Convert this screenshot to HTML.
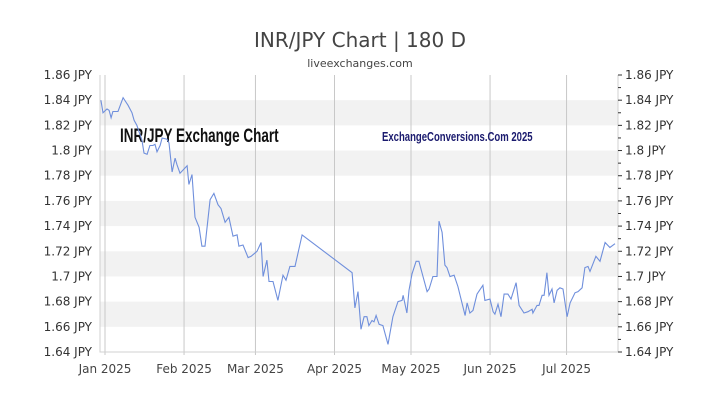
<!DOCTYPE html>
<html><head><meta charset="utf-8"><style>
body{margin:0;background:#fff;width:720px;height:405px;overflow:hidden;font-family:"Liberation Sans","DejaVu Sans",sans-serif}
</style></head><body>
<svg width="720" height="405" xmlns="http://www.w3.org/2000/svg">
<g id="bands"></g><g id="grid"></g>
<text x="360" y="47" text-anchor="middle" font-size="20" fill="#444" font-family="DejaVu Sans,sans-serif">INR/JPY Chart | 180 D</text>
<text x="360" y="67" text-anchor="middle" font-size="11" fill="#444" font-family="DejaVu Sans,sans-serif">liveexchanges.com</text>
<text x="120" y="142" font-size="19" font-weight="bold" fill="#111" font-family="Liberation Sans Narrow,Liberation Sans,sans-serif" transform="translate(120,0) scale(0.71,1) translate(-120,0)">INR/JPY Exchange Chart</text>
<text x="382" y="141" font-size="13" font-weight="bold" fill="#1a1a6e" font-family="Liberation Sans Narrow,Liberation Sans,sans-serif" transform="translate(382,0) scale(0.735,1) translate(-382,0)">ExchangeConversions.Com 2025</text>
<g id="axes"></g>
<path id="line" fill="none" stroke="#6f8fdc" stroke-width="1.1"/>
</svg>
<script>
const days=[-1.6,-0.8,0.8,1.6,2.4,3.1,5.1,7.1,9.0,10.6,11.4,12.5,14.5,15.3,16.5,17.6,18.8,19.6,20.4,21.6,22.4,24.3,25.1,26.3,27.5,28.2,29.4,32.2,32.9,34.1,35.3,36.9,38.0,39.2,41.2,42.7,44.3,45.5,47.1,48.6,50.2,51.8,52.5,54.1,56.1,57.3,59.6,61.2,62.0,63.5,64.3,65.9,67.8,69.8,71.0,72.5,74.5,77.3,96.9,98.0,99.2,100.4,101.6,102.7,103.5,104.7,105.5,106.3,107.5,109.0,111.0,112.9,114.9,116.5,116.9,118.4,119.2,120.4,122.0,123.1,124.7,126.3,127.1,128.6,130.2,131.0,132.2,133.3,134.1,135.3,136.9,138.4,141.2,142.0,143.1,144.3,145.9,148.2,149.0,151.0,152.2,152.9,154.1,155.3,156.5,158.0,159.2,161.2,162.4,164.3,165.9,167.5,167.8,169.4,170.2,171.4,172.2,173.3,174.1,175.3,176.1,177.3,178.4,179.6,181.2,182.4,184.3,185.5,187.1,188.2,189.4,190.2,192.5,194.1,196.1,198.0,200.0];
const rates=[1.840,1.830,1.833,1.832,1.826,1.831,1.831,1.842,1.836,1.830,1.824,1.820,1.808,1.798,1.797,1.804,1.804,1.805,1.799,1.804,1.810,1.809,1.806,1.783,1.794,1.789,1.782,1.788,1.773,1.781,1.747,1.739,1.724,1.724,1.761,1.766,1.757,1.754,1.743,1.747,1.732,1.733,1.724,1.725,1.715,1.716,1.720,1.727,1.700,1.713,1.696,1.696,1.681,1.701,1.697,1.708,1.708,1.733,1.703,1.675,1.688,1.658,1.668,1.668,1.661,1.665,1.664,1.669,1.662,1.661,1.646,1.668,1.680,1.681,1.685,1.671,1.689,1.702,1.712,1.712,1.700,1.688,1.690,1.700,1.700,1.744,1.735,1.709,1.707,1.700,1.701,1.692,1.669,1.679,1.671,1.673,1.686,1.693,1.681,1.682,1.672,1.670,1.678,1.668,1.686,1.686,1.682,1.695,1.677,1.671,1.672,1.674,1.671,1.677,1.677,1.685,1.685,1.703,1.685,1.690,1.679,1.689,1.691,1.690,1.668,1.679,1.687,1.688,1.691,1.707,1.708,1.704,1.716,1.712,1.727,1.723,1.726];
const yTicks=[1.64,1.66,1.68,1.70,1.72,1.74,1.76,1.78,1.80,1.82,1.84,1.86];
const yTickLabels=["1.64 JPY","1.66 JPY","1.68 JPY","1.7 JPY","1.72 JPY","1.74 JPY","1.76 JPY","1.78 JPY","1.8 JPY","1.82 JPY","1.84 JPY","1.86 JPY"];
const monthDays=[0,31,59,90,120,151,181];
const monthLabels=["Jan 2025","Feb 2025","Mar 2025","Apr 2025","May 2025","Jun 2025","Jul 2025"];
const L=100,R=618,T=75,B=352;
const xs=d=>105+d*2.55;
const ys=v=>B-(v-1.64)/(1.86-1.64)*(B-T);
const NS="http://www.w3.org/2000/svg";
function mk(tag,attrs,parent,txt){const e=document.createElementNS(NS,tag);for(const k in attrs)e.setAttribute(k,attrs[k]);if(txt!==undefined)e.textContent=txt;document.getElementById(parent).appendChild(e);return e;}
for(let i=0;i<yTicks.length-1;i++){
 if(i%2===1){const r=mk('rect',{x:L,y:ys(yTicks[i+1]),width:R-L,height:ys(yTicks[i])-ys(yTicks[i+1]),fill:'#f2f2f2'},'bands');
 
 }
}
monthDays.forEach((d,i)=>{
 const l=mk('line',{x1:xs(d),x2:xs(d),y1:T,y2:B+3,stroke:'#c8c8c8','stroke-width':1},'grid');
 
 
 const t=mk('text',{x:xs(d),y:373,'text-anchor':'middle','font-size':12,fill:'#444','font-family':'DejaVu Sans,sans-serif'},'axes',monthLabels[i]);
 
 
});
const ax=mk('path',{d:`M${L},${T}V${B}H${R}V${T}`,fill:'none',stroke:'#d0d0d0'},'axes');


yTicks.forEach((v,i)=>{
 const y=ys(v);
 const a=mk('text',{x:92,y:y+4,'text-anchor':'end','font-size':12,fill:'#333','font-family':'DejaVu Sans,sans-serif'},'axes',yTickLabels[i]);
 
 
 const b=mk('text',{x:625,y:y+4,'font-size':12,fill:'#333','font-family':'DejaVu Sans,sans-serif'},'axes',yTickLabels[i]);
 
 
 const t=mk('line',{x1:R,x2:R+4,y1:y,y2:y,stroke:'#333'},'axes');
 
 
 if(i<yTicks.length-1){const m=mk('line',{x1:R,x2:R+3,y1:(y+ys(yTicks[i+1]))/2,y2:(y+ys(yTicks[i+1]))/2,stroke:'#333'},'axes');
 
 }
});
document.getElementById('line').setAttribute('d',days.map((d,i)=>(i?'L':'M')+xs(d).toFixed(1)+','+ys(rates[i]).toFixed(1)).join(''));
</script>
</body></html>
